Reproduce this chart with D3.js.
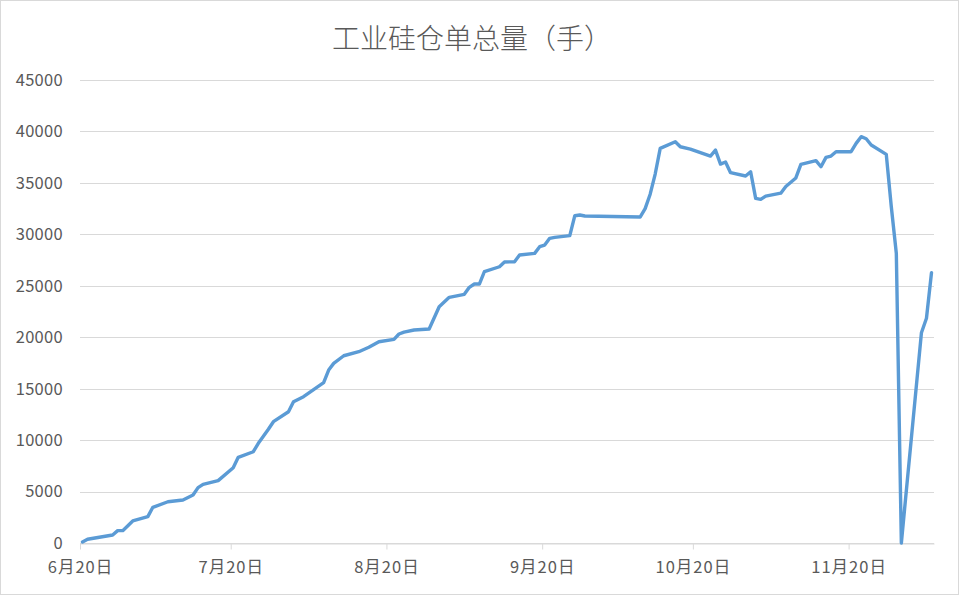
<!DOCTYPE html>
<html>
<head>
<meta charset="utf-8">
<script src="https://cdn.jsdelivr.net/npm/d3@7"></script>
<style>
  body { margin: 0; background: #fff; }
  text { font-family: "Noto Sans CJK SC", "DejaVu Sans", sans-serif; }
</style>
</head>
<body>
<div class="graphic"></div>
<script>
const W = 959, H = 595;
const margin = {left: 80, right: 25, top: 80, bottom: 52};

// trading days (2023) and total warrant count
const dates = [
  "06-20","06-21","06-26","06-27","06-28","06-30","07-03","07-04","07-07","07-10",
  "07-12","07-13","07-14","07-17","07-20","07-21","07-24","07-25","07-27","07-28",
  "07-31","08-01","08-03","08-07","08-08","08-09","08-11","08-14","08-16","08-18",
  "08-21","08-22","08-23","08-25","08-28","08-30","09-01","09-04","09-05","09-06",
  "09-07","09-08","09-11","09-12","09-14","09-15","09-18","09-19","09-20","09-21",
  "09-22","09-25","09-26","09-27","09-28","10-09","10-10","10-11","10-12","10-13",
  "10-16","10-17","10-19","10-23","10-24","10-25","10-26","10-27","10-30","10-31",
  "11-01","11-02","11-03","11-06","11-07","11-09","11-10","11-13","11-14","11-15",
  "11-16","11-17","11-20","11-21","11-22","11-23","11-24","11-27","11-28","11-29",
  "11-30","12-04","12-05","12-06"
];
const values = [
  100, 360, 780, 1200, 1200, 2140, 2560, 3470, 4010, 4180,
  4660, 5380, 5700, 6060, 7320, 8330, 8870, 9690, 11050, 11790,
  12760, 13730, 14220, 15580, 16810, 17460, 18200, 18590, 19020, 19560,
  19790, 20310, 20500, 20700, 20800, 22960, 23880, 24170, 24850, 25170,
  25170, 26370, 26850, 27310, 27340, 27990, 28150, 28800, 28960, 29610,
  29710, 29870, 31810, 31880, 31780, 31680, 32500, 33900, 35860, 38350,
  39000, 38510, 38290, 37610, 38190, 36830, 37030, 35990, 35670, 36080,
  33500, 33400, 33720, 34000, 34650, 35480, 36800, 37160, 36570, 37480,
  37610, 38030, 38030, 38840, 39490, 39290, 38680, 37770, 32680, 28150,
  0, 20440, 21840, 26270
];
const yTicks = [0, 5000, 10000, 15000, 20000, 25000, 30000, 35000, 40000, 45000];
const xTickDates = ["06-20", "07-20", "08-20", "09-20", "10-20", "11-20"];

const parse = d3.timeParse("%Y-%m-%d");
const day = s => parse("2023-" + s);
const halfDay = 12 * 3600 * 1000;

const data = dates.map((d, i) => ({date: day(d), value: values[i]}));

var svg = d3.select(".graphic")
  .append("svg")
  .attr("width", W)
  .attr("height", H);

svg.append("rect")
  .attr("x", 0.5).attr("y", 0.5)
  .attr("width", W - 1).attr("height", H - 1)
  .attr("fill", "#fff")
  .attr("stroke", "#d9d9d9");

var x = d3.scaleTime()
  .domain([day("06-20"), day("12-07")])
  .range([margin.left, W - margin.right]);

var y = d3.scaleLinear()
  .domain([0, 45000])
  .range([H - margin.bottom, margin.top]);

svg.append("text")
  .attr("x", 472)
  .attr("y", 37)
  .attr("text-anchor", "middle")
  .attr("dominant-baseline", "central")
  .style("font-size", "28px")
  .style("font-weight", 300)
  .style("fill", "#595959")
  .text("工业硅仓单总量（手）");

// horizontal grid
svg.append("g")
  .selectAll("line")
  .data(yTicks)
  .enter()
  .append("line")
  .attr("x1", x.range()[0])
  .attr("x2", x.range()[1])
  .attr("y1", d => Math.round(y(d)) + 0.5)
  .attr("y2", d => Math.round(y(d)) + 0.5)
  .attr("stroke", "#d9d9d9")
  .attr("stroke-width", 1);

// y labels
svg.append("g")
  .selectAll("text")
  .data(yTicks)
  .enter()
  .append("text")
  .attr("x", 63)
  .attr("y", d => y(d))
  .attr("dy", "0.36em")
  .attr("text-anchor", "end")
  .style("font-size", "16.5px")
  .style("letter-spacing", "0.3px")
  .style("fill", "#595959")
  .text(d => d);

// x axis
var xAxis = d3.axisBottom(x)
  .tickValues(xTickDates.map(day))
  .tickSize(6)
  .tickSizeOuter(0)
  .tickPadding(12)
  .tickFormat(d3.timeFormat("%-m月%-d日"));

var gx = svg.append("g")
  .attr("transform", "translate(0," + (Math.round(y(0)) + 0.5) + ")")
  .call(xAxis);
gx.select(".domain").attr("stroke", "#d9d9d9");
gx.selectAll(".tick line").attr("stroke", "#d9d9d9");
gx.selectAll(".tick text")
  .style("font-size", "16.5px")
  .style("letter-spacing", "1px")
  .style("font-family", "'Noto Sans CJK SC', sans-serif")
  .style("fill", "#595959");

var line = d3.line()
  .x(d => x(new Date(d.date.getTime() + halfDay)))
  .y(d => y(d.value));

svg.append("path")
  .datum(data)
  .attr("d", line)
  .attr("fill", "none")
  .attr("stroke", "#5b9bd5")
  .attr("stroke-width", 3.4)
  .attr("stroke-linejoin", "round")
  .attr("stroke-linecap", "round");
</script>
</body>
</html>
